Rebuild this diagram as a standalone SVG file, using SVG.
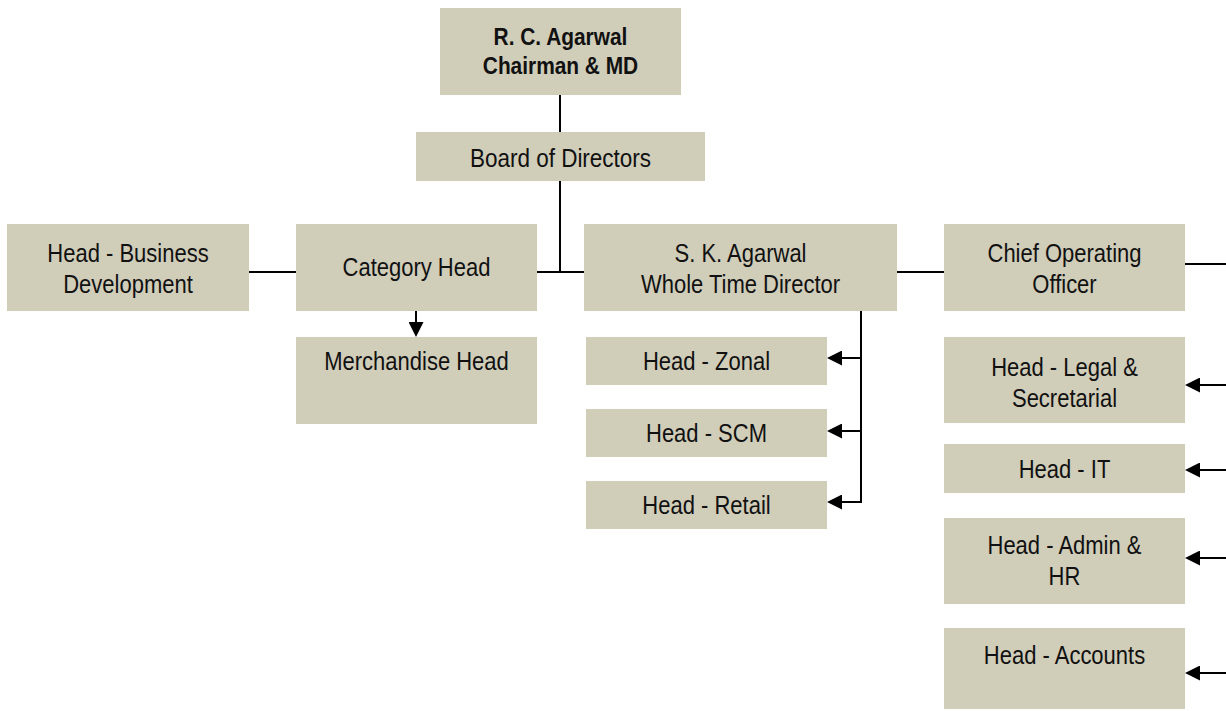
<svg xmlns="http://www.w3.org/2000/svg" width="1226" height="711" viewBox="0 0 1226 711">
<defs>
<marker id="ah" viewBox="0 0 15 15" refX="12" refY="7.5" markerWidth="15" markerHeight="15" markerUnits="userSpaceOnUse" orient="auto">
<path d="M0,0 L15,7.5 L0,15 z" fill="#000"/>
</marker>
<style>
.box{fill:#d0cdb9;}
.t{font-family:"Liberation Sans",Arial,sans-serif;font-size:25px;fill:#111;text-anchor:middle;}
.b{font-weight:bold;font-size:24px;}
.c{stroke:#000;stroke-width:2;fill:none;}
.a{marker-end:url(#ah);}
</style>
</defs>
<rect width="1226" height="711" fill="#fff"/>
<g id="connectors">
<line class="c" x1="560" y1="95" x2="560" y2="132"/>
<line class="c" x1="560" y1="181" x2="560" y2="273"/>
<line class="c" x1="249" y1="272" x2="296" y2="272"/>
<line class="c" x1="537" y1="272" x2="584" y2="272"/>
<line class="c" x1="897" y1="272" x2="944" y2="272"/>
<line class="c" x1="1185" y1="264" x2="1226" y2="264"/>
<line class="c a" x1="416" y1="311" x2="416" y2="334"/>
<line class="c" x1="861" y1="311" x2="861" y2="503"/>
<line class="c a" x1="862" y1="358" x2="830" y2="358"/>
<line class="c a" x1="862" y1="431" x2="830" y2="431"/>
<line class="c a" x1="862" y1="502" x2="830" y2="502"/>
<line class="c a" x1="1226" y1="385" x2="1188" y2="385"/>
<line class="c a" x1="1226" y1="470" x2="1188" y2="470"/>
<line class="c a" x1="1226" y1="558" x2="1188" y2="558"/>
<line class="c a" x1="1226" y1="673" x2="1188" y2="673"/>
</g>
<g id="chairman"><rect class="box" x="440" y="8" width="241" height="87"/>
<text class="t b" x="0" y="45" transform="translate(560.5 0) scale(0.87 1)">R. C. Agarwal</text>
<text class="t b" x="0" y="74" transform="translate(560.5 0) scale(0.87 1)">Chairman &amp; MD</text></g>
<g id="board"><rect class="box" x="416" y="132" width="289" height="49"/>
<text class="t" x="0" y="167" transform="translate(560.5 0) scale(0.9 1)">Board of Directors</text></g>
<g id="head-bd"><rect class="box" x="7" y="224" width="242" height="87"/>
<text class="t" x="0" y="262" transform="translate(128 0) scale(0.88 1)">Head - Business</text>
<text class="t" x="0" y="293" transform="translate(128 0) scale(0.88 1)">Development</text></g>
<g id="category-head"><rect class="box" x="296" y="224" width="241" height="87"/>
<text class="t" x="0" y="276" transform="translate(416.5 0) scale(0.88 1)">Category Head</text></g>
<g id="sk-agarwal"><rect class="box" x="584" y="224" width="313" height="87"/>
<text class="t" x="0" y="262" transform="translate(740.5 0) scale(0.88 1)">S. K. Agarwal</text>
<text class="t" x="0" y="293" transform="translate(740.5 0) scale(0.88 1)">Whole Time Director</text></g>
<g id="coo"><rect class="box" x="944" y="224" width="241" height="87"/>
<text class="t" x="0" y="262" transform="translate(1064.5 0) scale(0.88 1)">Chief Operating</text>
<text class="t" x="0" y="293" transform="translate(1064.5 0) scale(0.88 1)">Officer</text></g>
<g id="merchandise-head"><rect class="box" x="296" y="337" width="241" height="87"/>
<text class="t" x="0" y="370" transform="translate(416.5 0) scale(0.88 1)">Merchandise Head</text></g>
<g id="head-zonal"><rect class="box" x="586" y="337" width="241" height="48"/>
<text class="t" x="0" y="370" transform="translate(706.5 0) scale(0.88 1)">Head - Zonal</text></g>
<g id="head-scm"><rect class="box" x="586" y="409" width="241" height="48"/>
<text class="t" x="0" y="442" transform="translate(706.5 0) scale(0.88 1)">Head - SCM</text></g>
<g id="head-retail"><rect class="box" x="586" y="481" width="241" height="48"/>
<text class="t" x="0" y="514" transform="translate(706.5 0) scale(0.88 1)">Head - Retail</text></g>
<g id="head-legal"><rect class="box" x="944" y="337" width="241" height="86"/>
<text class="t" x="0" y="376" transform="translate(1064.5 0) scale(0.88 1)">Head - Legal &amp;</text>
<text class="t" x="0" y="407" transform="translate(1064.5 0) scale(0.88 1)">Secretarial</text></g>
<g id="head-it"><rect class="box" x="944" y="444" width="241" height="49"/>
<text class="t" x="0" y="478" transform="translate(1064.5 0) scale(0.88 1)">Head - IT</text></g>
<g id="head-admin"><rect class="box" x="944" y="518" width="241" height="86"/>
<text class="t" x="0" y="554" transform="translate(1064.5 0) scale(0.88 1)">Head - Admin &amp;</text>
<text class="t" x="0" y="585" transform="translate(1064.5 0) scale(0.88 1)">HR</text></g>
<g id="head-accounts"><rect class="box" x="944" y="628" width="241" height="81"/>
<text class="t" x="0" y="664" transform="translate(1064.5 0) scale(0.88 1)">Head - Accounts</text></g>
</svg>
